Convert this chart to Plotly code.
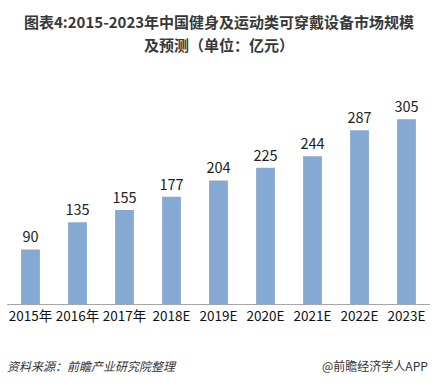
import plotly.graph_objects as go

categories = ["2015年", "2016年", "2017年", "2018E", "2019E", "2020E", "2021E", "2022E", "2023E"]
values = [90, 135, 155, 177, 204, 225, 244, 287, 305]

title_line1 = "图表4:2015-2023年中国健身及运动类可穿戴设备市场规模"
title_line2 = "及预测（单位：亿元）"
source_text = "资料来源：前瞻产业研究院整理"
brand_text = "@前瞻经济学人APP"

font_family = "Microsoft YaHei, Noto Sans CJK SC, sans-serif"
PLOT_H = 212

fig = go.Figure(go.Bar(
    x=categories, y=values,
    marker=dict(color="#85a9d3", line=dict(width=0)),
    text=[str(v) for v in values], textposition="outside",
    constraintext="none",
    textfont=dict(size=14.5, color="#222222", family=font_family),
    cliponaxis=False,
))

fig.update_layout(
    width=437, height=385,
    margin=dict(l=7, r=7, t=92, b=81),
    paper_bgcolor="white", plot_bgcolor="white",
    bargap=0.6,
    showlegend=False,
    font=dict(family=font_family),
    xaxis=dict(showline=True, linecolor="#a6a6a6", linewidth=1, ticks="", automargin=False,
               tickfont=dict(size=13.5, color="#111111", family=font_family), fixedrange=True),
    yaxis=dict(visible=False, range=[0, 350], fixedrange=True, automargin=False),
    annotations=[
        dict(text="<b>" + title_line1 + "</b>", xref="paper", yref="paper", x=0.5,
             y=1 + (92 - 22) / PLOT_H, xanchor="center", yanchor="middle", showarrow=False,
             font=dict(size=15, color="#383838", family=font_family)),
        dict(text="<b>" + title_line2 + "</b>", xref="paper", yref="paper", x=0.5,
             y=1 + (92 - 44) / PLOT_H, xanchor="center", yanchor="middle", showarrow=False,
             font=dict(size=15, color="#383838", family=font_family)),
        dict(text=source_text, xref="paper", yref="paper", x=-0.005, y=-(365 - 304) / PLOT_H,
             xanchor="left", yanchor="middle", showarrow=False,
             font=dict(size=12, color="#333333", family=font_family, style="italic")),
        dict(text=brand_text, xref="paper", yref="paper", x=1.0, y=-(365 - 304) / PLOT_H,
             xanchor="right", yanchor="middle", showarrow=False,
             font=dict(size=12, color="#333333", family=font_family)),
    ],
)

fig.write_html("out.html", config={"displayModeBar": False},
               post_script="document.body.style.margin='0';document.body.style.overflow='hidden';")
